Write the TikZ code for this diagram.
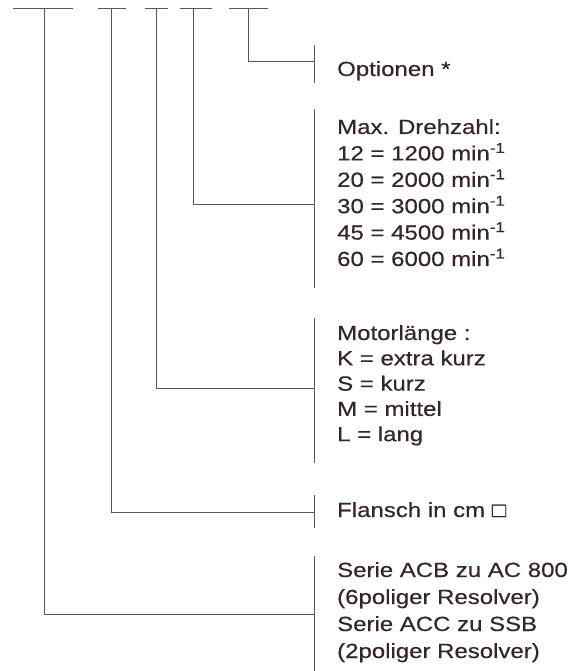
\documentclass[tikz,border=0pt]{standalone}
\usepackage{fontspec}
\setmainfont{Liberation Sans}[FakeStretch=1.17,FakeBold=0.4]
\usetikzlibrary{positioning,calc}
\definecolor{inkline}{RGB}{95,85,88}
\definecolor{inktext}{RGB}{52,38,42}

\begin{document}
\begin{tikzpicture}[x=1pt,y=-1pt,
  ln/.style={draw=inkline,line width=0.9pt},
  lbl/.style={anchor=base west,inner sep=0pt,text=inktext,
    font=\fontsize{20.5}{24}\selectfont}]
\useasboundingbox (0,0) rectangle (572,671);
% top bars of the type code
\foreach \n/\a/\b/\c in {1/13/73/44, 2/98/126/111, 3/145/168/156, 4/180/212/193, 5/229/268/248}{
  \coordinate (barL\n) at (\a,8);
  \coordinate (barR\n) at (\b,8);
  \coordinate (bar\n) at (\c,8);
  \draw[ln] (barL\n) -- (barR\n);
}
% brackets and leaders
\foreach \n/\t/\m/\b in {5/45/61/83, 4/109/204/288, 3/318/388/463, 2/495/512/528, 1/556/614/671}{
  \coordinate (top\n) at (314,\t);
  \coordinate (jn\n) at (314,\m);
  \coordinate (bot\n) at (314,\b);
  \draw[ln] (top\n) -- (bot\n);
  \draw[ln] (bar\n) |- (jn\n);
}
% labels
\node[lbl] (opt) at (337,76) {Optionen *};
\foreach \i/\s in {0/{Max. Drehzahl:}, 1/{12 = 1200 min\textsuperscript{-1}},
    2/{20 = 2000 min\textsuperscript{-1}}, 3/{30 = 3000 min\textsuperscript{-1}},
    4/{45 = 4500 min\textsuperscript{-1}}, 5/{60 = 6000 min\textsuperscript{-1}}}{
  \node[lbl] (max\i) at (337,134+26.4*\i) {\s};
}
\foreach \i/\s in {0/{Motorlänge :}, 1/{K = extra kurz}, 2/{S = kurz},
    3/{M = mittel}, 4/{L = lang}}{
  \node[lbl] (mot\i) at (337,340+25.3*\i) {\s};
}
\node[lbl] (fl) at (337,517) {Flansch in cm □};
\foreach \i/\s in {0/{Serie ACB zu AC 800}, 1/{(6poliger Resolver)},
    2/{Serie ACC zu SSB}, 3/{(2poliger Resolver)}}{
  \node[lbl] (ser\i) at (337,577+27*\i) {\s};
}
\end{tikzpicture}
\end{document}
